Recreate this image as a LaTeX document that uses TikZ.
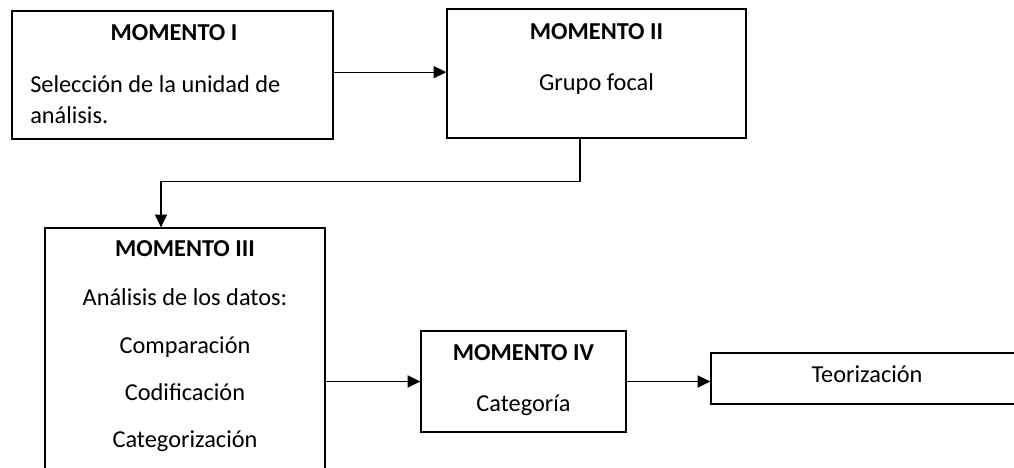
\documentclass[tikz,border=0pt]{standalone}
\usepackage{fontspec}
\setmainfont{Carlito}
\usetikzlibrary{arrows.meta,positioning,calc}

\tikzset{
  caja/.style={draw, line width=0.9pt, inner sep=0pt},
  titulo/.style={font=\fontsize{17.3}{22}\selectfont\bfseries, inner sep=0pt, anchor=base},
  texto/.style={font=\fontsize{17.3}{22}\selectfont, inner sep=0pt, anchor=base},
  flecha/.style={-{Triangle[length=9pt,width=8.5pt]}, line width=0.9pt}
}

\begin{document}
\begin{tikzpicture}
\useasboundingbox (0,0) rectangle (25.35,-11.7);

% Momento I
\node[caja, minimum width=8.025cm, minimum height=3.2cm] (m1) at (4.3125,-1.875) {};
\node[titulo] (m1t) at (4.35,-1.0175) {MOMENTO I};
\node[texto, anchor=base west] (m1a) at (0.75,-2.32) {Selección de la unidad de};
\node[texto, anchor=base west] (m1b) at (0.75,-3.1) {análisis.};

% Momento II
\node[caja, minimum width=7.475cm, minimum height=3.225cm] (m2) at (14.9125,-1.8375) {};
\node[titulo] (m2t) at (14.9125,-1.0) {MOMENTO II};
\node[texto] (m2a) at (14.9125,-2.2675) {Grupo focal};

% Momento III
\node[caja, minimum width=7cm, minimum height=6.3cm] (m3) at (4.625,-8.85) {};
\node[titulo] (m3t) at (4.625,-6.4175) {MOMENTO III};
\node[texto] (m3a) at (4.625,-7.625) {Análisis de los datos:};
\node[texto] (m3b) at (4.625,-8.825) {Comparación};
\node[texto] (m3c) at (4.625,-10.0) {Codificación};
\node[texto] (m3d) at (4.625,-11.1925) {Categorización};

% Momento IV
\node[caja, minimum width=5.125cm, minimum height=2.525cm] (m4) at (13.0875,-9.5375) {};
\node[titulo] (m4t) at (13.0875,-9.0175) {MOMENTO IV};
\node[texto] (m4a) at (13.0875,-10.2925) {Categoría};

% Teorizacion
\node[caja, minimum width=7.825cm, minimum height=1.275cm] (teo) at (21.6875,-9.4625) {};
\node[texto] (teot) at (21.675,-9.5575) {Teorización};

% Conexiones
\draw[flecha] ([yshift=2pt]m1.east) -- ([yshift=2pt]m1.east -| m2.west);
\draw[flecha] ([xshift=-0.4125cm]m2.south) -- ++(0,-1.075) -| ([xshift=-0.6cm]m3.north);
\draw[flecha] (m3.east |- m4.west) -- (m4.west);
\draw[flecha] (m4.east) -- (m4.east -| teo.west);
\end{tikzpicture}
\end{document}
